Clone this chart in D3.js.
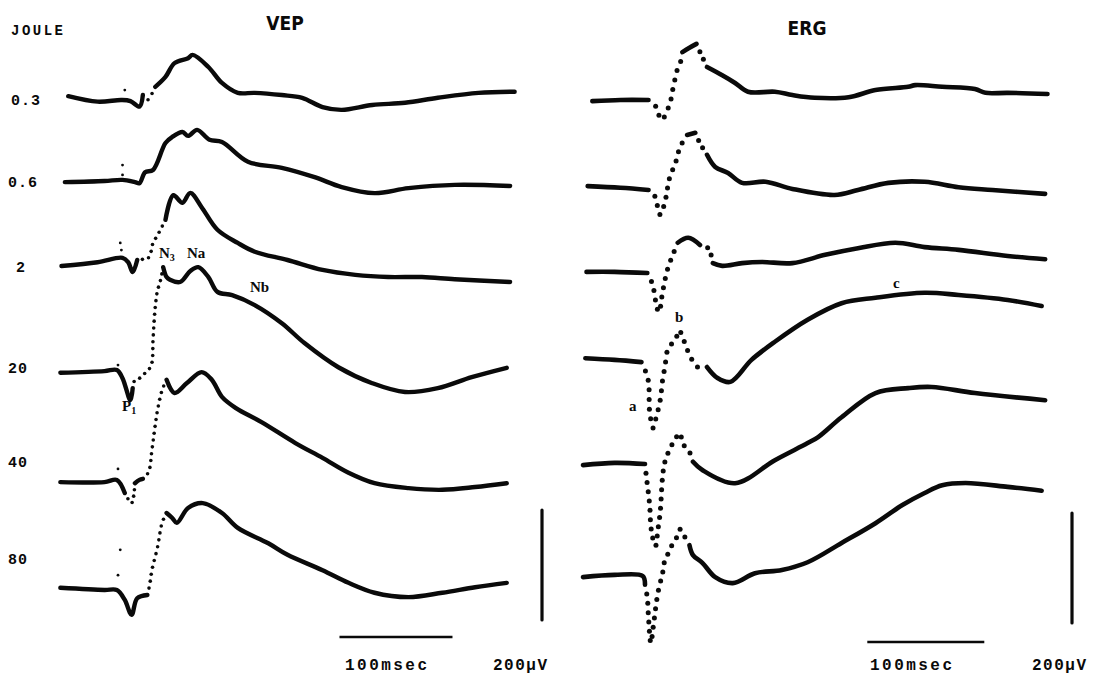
<!DOCTYPE html>
<html><head><meta charset="utf-8">
<script src="https://cdn.jsdelivr.net/npm/d3@7"></script>
<style>body{margin:0;background:#fff}svg{display:block}</style>
</head><body>
<svg id="c" width="1095" height="678"></svg>
<script>
// ---------------- DATA (time in ms from flash, amplitude in µV) ----------------
const energies = ["0.3", "0.6", "2", "20", "40", "80"];
const unitLabel = "JOULE";
const panelTitles = ["VEP", "ERG"];
const timeBarMs = 100;
const voltBarUv = 200;
const timeBarLabel = "100msec";
const voltBarLabel = "200µV";

const vep03 = [[-44,7],[-18,-3],[3,0],[11,-2],[19,-12],[22,9],[26,0],[28,4],[33,24],[42,42],[50,67],[62,76],[66,82],[80,60],[92,31],[106,13],[121,13],[145,9],[163,4],[181,-13],[198,-18],[225,-9],[254,-5],[283,4],[319,13],[351,15]];
const vep06 = [[-47,-2],[-12,0],[4,2],[15,-2],[19,-4],[24,16],[31,20],[42,69],[48,80],[57,89],[62,82],[70,93],[81,75],[92,71],[115,35],[145,24],[174,7],[198,-11],[227,-22],[257,-13],[298,-7],[347,-9]];
const vep2  = [[-50,-11],[-18,-4],[4,4],[9,-4],[13,-22],[17,0],[18,4],[24,0],[28,7],[31,31],[35,45],[42,73],[49,118],[57,104],[64,122],[74,96],[88,55],[106,31],[121,15],[150,0],[181,-18],[210,-27],[239,-31],[269,-31],[298,-35],[347,-40]];
const vep20 = [[-51,-5],[-12,-2],[-1,0],[4,-15],[11,-55],[13,-33],[15,-18],[19,-15],[22,-9],[27,0],[30,13],[31,55],[33,115],[35,145],[37,158],[40,187],[43,169],[46,164],[55,160],[64,180],[71,187],[80,169],[88,142],[101,136],[121,118],[145,85],[165,49],[195,5],[225,-24],[254,-40],[283,-33],[313,-13],[344,4]];
const vep40 = [[-51,-2],[-12,-2],[-1,2],[6,-22],[12,-40],[15,-4],[19,2],[22,4],[27,16],[30,56],[33,102],[35,129],[39,165],[43,184],[50,160],[61,178],[74,198],[83,184],[92,153],[104,133],[127,107],[157,69],[181,42],[204,15],[227,-4],[257,-13],[287,-16],[316,-11],[344,-4]];
const vep80 = [[-51,4],[-12,0],[-1,0],[6,-18],[12,-45],[17,-15],[26,-9],[28,9],[30,36],[35,78],[39,122],[43,140],[48,131],[52,122],[62,149],[75,158],[92,140],[106,113],[133,85],[150,64],[181,36],[204,13],[227,-5],[257,-13],[287,-5],[316,5],[344,13]];
const vepStimDots = [[[6,18]],[[4,29],[4,11]],[[2,31],[3,18]],[[0,9]],[[0,22]],[[0,27],[2,73]]];

const erg03 = [[-45,-2],[-21,0],[3,0],[7,-5],[10,-15],[13,-33],[15,-36],[18,-22],[21,-9],[24,22],[28,58],[31,73],[32,87],[38,95],[44,102],[49,78],[53,60],[66,45],[77,31],[88,15],[111,15],[126,9],[145,4],[174,5],[197,18],[225,24],[231,27],[254,24],[282,20],[291,13],[310,13],[344,11]];
const erg06 = [[-49,7],[-21,4],[3,0],[7,-5],[10,-24],[13,-45],[17,-22],[21,22],[26,49],[30,78],[36,100],[43,104],[47,85],[53,64],[60,42],[71,31],[83,13],[103,15],[126,2],[162,-9],[182,0],[208,13],[239,15],[268,5],[297,0],[342,-7]];
const erg2  = [[-50,2],[-26,2],[2,0],[6,-18],[8,-36],[10,-62],[12,-71],[15,-35],[19,5],[23,29],[28,55],[37,64],[47,51],[54,45],[58,18],[66,13],[83,18],[100,20],[126,18],[154,33],[182,45],[214,55],[239,47],[268,42],[310,31],[342,25]];
const erg20 = [[-51,5],[-26,2],[-3,-2],[0,-16],[3,-38],[4,-93],[7,-122],[9,-107],[13,-71],[15,-35],[17,-11],[20,24],[26,38],[29,56],[34,33],[38,11],[45,-11],[53,-11],[62,-31],[73,-38],[91,2],[111,35],[139,75],[168,105],[197,115],[239,124],[268,120],[310,111],[339,100]];
const erg40 = [[-53,-2],[-26,2],[0,0],[1,-20],[4,-75],[5,-113],[7,-138],[9,-149],[11,-120],[13,-87],[15,-24],[17,4],[23,35],[30,56],[32,38],[38,22],[41,4],[49,-11],[77,-35],[111,7],[139,38],[148,49],[168,85],[197,129],[225,138],[245,140],[282,129],[342,116]];
const erg80 = [[-53,-2],[-26,2],[-2,0],[0,-16],[2,-40],[3,-76],[5,-122],[7,-93],[11,-31],[15,5],[17,29],[20,42],[23,56],[26,65],[30,85],[34,71],[38,56],[41,38],[49,24],[60,-2],[75,-13],[94,5],[117,11],[139,25],[168,60],[197,96],[220,129],[239,151],[254,165],[274,169],[310,162],[339,155]];

const vepTraces = [vep03, vep06, vep2, vep20, vep40, vep80];
const ergTraces = [erg03, erg06, erg2, erg20, erg40, erg80];

// ---------------- LAYOUT / STYLE ----------------
const svg = d3.select("#c");
const INK = "#0a0a0a";
const vepRowY = [100, 181, 260, 370, 481, 590];
const ergRowY = [100, 190, 273, 361, 464, 576];
// pen-speed dotted portions (time ranges)
const vepDotted = [[[22,33]], [], [[17,42]], [[13,40]], [[6,15],[22,43]], [[26,43]]];
const ergDotted = [[[3,32],[44,53]], [[3,36],[43,53]], [[2,28],[47,58]], [[-3,53]], [[0,41]], [[0,38]]];

const vepX = d3.scaleLinear().domain([0, 100]).range([118, 231]);
const ergX = d3.scaleLinear().domain([0, 100]).range([645, 762]);
const uvPx = 110 / 200;
const rowY = base => d3.scaleLinear().domain([0, 200]).range([base, base - 200 * uvPx]);

function drawTrace(g, pts, x, y, dotted, sw, dotR, gap) {
  const isIn = t => dotted.some(r => t > r[0] && t < r[1]);
  const line = d3.line().x(d => x(d[0])).y(d => y(d[1])).curve(d3.curveCatmullRom.alpha(0.5));
  g.append("path").attr("d", line.defined(d => !isIn(d[0]))(pts))
    .attr("fill", "none").attr("stroke", INK).attr("stroke-width", sw)
    .attr("stroke-linecap", "round").attr("stroke-linejoin", "round");
  const l2 = d3.line().x(d => x(d[0])).y(d => y(d[1])).curve(d3.curveCatmullRom.alpha(0.5));
  dotted.forEach(r => {
    const seg = pts.filter(d => d[0] >= r[0] && d[0] <= r[1]);
    if (seg.length < 2) return;
    const p = g.append("path").attr("d", l2(seg)).attr("fill", "none").attr("stroke", "none");
    const node = p.node(), L = node.getTotalLength();
    const n = Math.max(2, Math.round(L / gap));
    for (let i = 1; i < n; i++) {
      const q = node.getPointAtLength(L * i / n);
      g.append("circle").attr("cx", q.x).attr("cy", q.y).attr("r", dotR).attr("fill", INK);
    }
    p.remove();
  });
}

const gV = svg.append("g"), gE = svg.append("g");
vepTraces.forEach((tr, i) => {
  const y = rowY(vepRowY[i]);
  drawTrace(gV, tr, vepX, y, vepDotted[i], 4.4, 1.8, 7);
  vepStimDots[i].forEach(d => gV.append("circle").attr("cx", vepX(d[0])).attr("cy", y(d[1])).attr("r", 1.4).attr("fill", INK));
});
ergTraces.forEach((tr, i) => {
  const y = rowY(ergRowY[i]);
  drawTrace(gE, tr, ergX, y, ergDotted[i], 4.6, 2.5, 9.5);
});

// titles
const titleFont = "'DejaVu Sans Condensed','Liberation Sans Narrow',sans-serif";
svg.append("text").text(panelTitles[0]).attr("x", 285).attr("y", 30)
  .attr("text-anchor", "middle").attr("font-family", titleFont)
  .attr("font-stretch", "condensed").attr("font-weight", "bold").attr("font-size", 19).attr("fill", INK);
svg.append("text").text(panelTitles[1]).attr("x", 807).attr("y", 35)
  .attr("text-anchor", "middle").attr("font-family", titleFont)
  .attr("font-stretch", "condensed").attr("font-weight", "bold").attr("font-size", 19).attr("fill", INK);

const mono = "'Liberation Mono','DejaVu Sans Mono',monospace";
svg.append("text").text(unitLabel).attr("x", 11).attr("y", 35).attr("font-family", mono)
  .attr("font-weight", "bold").attr("font-size", 14).attr("textLength", 52).attr("lengthAdjust", "spacing").attr("fill", INK);

const labelX = [11, 8, 16, 8, 8, 8];
const labelY = [105, 187, 272, 373, 467, 564];
energies.forEach((e, i) => {
  svg.append("text").text(e).attr("x", labelX[i]).attr("y", labelY[i]).attr("font-family", mono)
    .attr("font-weight", "bold").attr("font-size", 15).attr("letter-spacing", 1).attr("fill", INK);
});

// component annotations
function ann(txt, sub, x, y) {
  const t = svg.append("text").attr("x", x).attr("y", y).attr("font-family", "'Liberation Serif','DejaVu Serif',serif")
    .attr("font-weight", "bold").attr("font-size", 15).attr("fill", INK);
  t.append("tspan").text(txt);
  if (sub) t.append("tspan").text(sub).attr("font-size", 10).attr("dy", 3);
}
ann("N", "3", 159, 258);
ann("Na", null, 187, 258);
ann("Nb", null, 250, 292);
ann("P", "1", 122, 411);
ann("a", null, 629, 411);
ann("b", null, 675, 322);
ann("c", null, 893, 288);

// scale bars
function scaleBars(x, t0, yBar, xV, vBase, labX1, labX2) {
  svg.append("line").attr("x1", x(t0)).attr("x2", x(t0 + timeBarMs)).attr("y1", yBar).attr("y2", yBar)
    .attr("stroke", INK).attr("stroke-width", 2.6);
  const yv = rowY(vBase);
  svg.append("line").attr("x1", xV).attr("x2", xV).attr("y1", yv(0)).attr("y2", yv(voltBarUv))
    .attr("stroke", INK).attr("stroke-width", 3.2).attr("stroke-linecap", "round");
  svg.append("text").text(timeBarLabel).attr("x", labX1).attr("y", 670).attr("font-family", mono)
    .attr("font-weight", "bold").attr("font-size", 16).attr("textLength", 82).attr("lengthAdjust", "spacing").attr("fill", INK);
  svg.append("text").text(voltBarLabel).attr("x", labX2).attr("y", 670).attr("font-family", mono)
    .attr("font-weight", "bold").attr("font-size", 16).attr("textLength", 54).attr("lengthAdjust", "spacing").attr("fill", INK);
}
scaleBars(vepX, 196, 637, 542, 620, 345, 493);
scaleBars(ergX, 190, 642, 1072, 623, 870, 1032);
</script>
</body></html>
